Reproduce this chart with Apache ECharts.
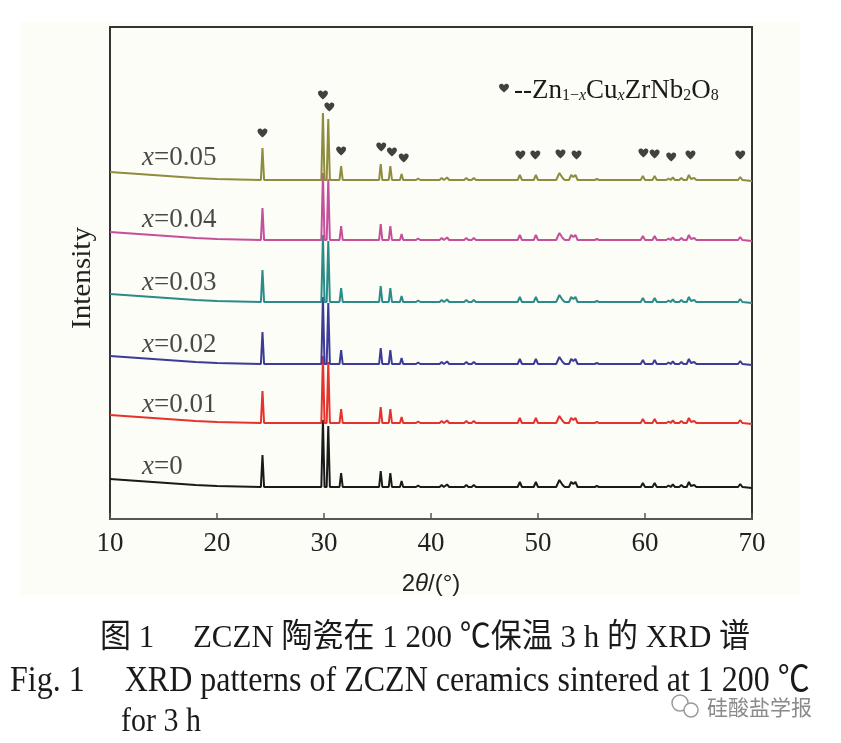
<!DOCTYPE html>
<html>
<head>
<meta charset="utf-8">
<script src="https://cdn.jsdelivr.net/npm/echarts@6/dist/echarts.min.js"></script>
<style>
html,body{margin:0;padding:0;background:#ffffff;}
#chart{width:841px;height:743px;}
</style>
</head>
<body>
<div id="chart"></div>
<script>
// ---- data (intensity in arbitrary units above each pattern's baseline) ----
var sampleLabels = ['x=0', 'x=0.01', 'x=0.02', 'x=0.03', 'x=0.04', 'x=0.05'];
var sampleColors = ['#1a1a1a', '#e4322c', '#3c3c98', '#2b8b88', '#c4509c', '#8e8c3e'];
var baselineOffsets = [32, 96, 155, 217, 279, 339];
var labelPositions = [[13.0, 52], [13.0, 114], [13.0, 174], [13.0, 236], [13.0, 299], [13.0, 361]];

// common XRD profile: [2theta, relative intensity]
var xrdProfile = [
  [10, 8], [12, 6.5], [14, 5], [16, 3.5], [18, 2], [20, 1], [22, 0.5], [24.1, 0],
  [24.25, 32], [24.4, 0], [29.75, 0], [29.9, 67], [30.05, 0], [30.25, 0], [30.4, 61], [30.55, 0],
  [31.45, 0], [31.6, 14], [31.75, 0], [35.15, 0], [35.3, 16], [35.45, 0], [36.05, 0], [36.2, 14],
  [36.35, 0], [37.1, 0], [37.25, 6], [37.4, 0], [38.6, 0], [38.8, 1.5], [39, 0], [40.8, 0],
  [41, 2], [41.2, 0], [41.3, 0], [41.5, 2.5], [41.7, 0], [43.1, 0], [43.3, 2], [43.5, 0],
  [43.8, 0], [44, 2], [44.2, 0], [48.1, 0], [48.3, 5], [48.5, 0], [49.6, 0], [49.8, 5],
  [50, 0], [51.7, 0], [52, 7], [52.3, 2], [52.5, 0], [52.9, 0], [53.1, 5], [53.3, 3],
  [53.5, 5], [53.7, 0], [55.3, 0], [55.5, 1], [55.7, 0], [59.6, 0], [59.8, 4], [60, 0],
  [60.7, 0], [60.9, 4], [61.1, 0], [62, 0], [62.2, 1.5], [62.4, 0], [62.6, 2.5], [62.8, 0],
  [63.2, 0], [63.4, 2], [63.6, 0], [63.9, 0], [64.1, 5], [64.3, 1], [64.6, 2], [64.8, 0],
  [68.7, 0], [68.9, 3], [69.1, 0], [70, -1]
];

// phase marker (heart) positions: [2theta, intensity]
var phaseMarkers = [
  [24.25, 386], [29.9, 424], [30.5, 412], [31.6, 368], [35.35, 372], [36.35, 367], [37.45, 361],
  [48.35, 364], [49.75, 364], [52.1, 365], [53.6, 364], [59.85, 366], [60.9, 365], [62.45, 362],
  [64.25, 364], [68.9, 364]
];

var xTicks = [10, 20, 30, 40, 50, 60, 70];

var heartPath = 'path://M12,21 C5,15 0,11 0,6 C0,2.5 2.5,0 6,0 C8.5,0 10.5,1.5 12,3.5 C13.5,1.5 15.5,0 18,0 C21.5,0 24,2.5 24,6 C24,11 19,15 12,21 Z';

var serif = '"Liberation Serif","Times New Roman",serif';
var capFont = '"Liberation Serif","Noto Sans CJK SC",serif';

var chart = echarts.init(document.getElementById('chart'), null, {renderer: 'canvas'});

var series = [];
for (var i = 0; i < sampleLabels.length; i++) {
  var off = baselineOffsets[i];
  series.push({
    type: 'line',
    name: sampleLabels[i],
    showSymbol: false,
    symbol: 'none',
    animation: false,
    lineStyle: {color: sampleColors[i], width: 2},
    data: xrdProfile.map(function (p) { return [p[0], p[1] + off]; }),
    z: 2 + i
  });
}
series.push({
  type: 'scatter',
  name: 'labels',
  symbolSize: 0,
  animation: false,
  silent: true,
  data: labelPositions.map(function (p, i) { return {value: p, name: sampleLabels[i]}; }),
  label: {
    show: true,
    position: 'right',
    distance: 0,
    formatter: function (prm) {
      return '{i|x}{n|' + prm.name.slice(1) + '}';
    },
    rich: {
      i: {fontFamily: serif, fontStyle: 'italic', fontSize: 27, color: '#1a1a1a'},
      n: {fontFamily: serif, fontSize: 27, color: '#1a1a1a'}
    }
  },
  z: 20
});
series.push({
  type: 'scatter',
  name: 'Zn1-xCuxZrNb2O8',
  symbol: heartPath,
  symbolSize: [10, 9],
  animation: false,
  itemStyle: {color: '#111'},
  data: phaseMarkers,
  z: 20
});

var graphics = [
  {type: 'rect', z: -10, silent: true, shape: {x: 20, y: 22, width: 780, height: 573}, style: {fill: '#fdfdf8'}},
  {type: 'text', z: 10, x: 83, y: 278, rotation: Math.PI / 2, scaleX: 1.08,
    style: {text: 'Intensity', font: '27px ' + serif, fill: '#222', align: 'center', verticalAlign: 'middle'}},
  {type: 'text', z: 10, x: 425, y: 638, scaleY: 1.05,
    style: {text: '图 1　 ZCZN 陶瓷在 1 200 ℃保温 3 h 的 XRD 谱', font: '31px ' + capFont, fill: '#1a1a1a', align: 'center', verticalAlign: 'middle'}},
  {type: 'text', z: 10, x: 10, y: 682, scaleY: 1.1,
    style: {text: 'Fig. 1　 XRD patterns of ZCZN ceramics sintered at 1 200 ℃', font: '32px ' + capFont, fill: '#1a1a1a', align: 'left', verticalAlign: 'middle'}},
  {type: 'text', z: 10, x: 121, y: 722, scaleY: 1.1,
    style: {text: 'for 3 h', font: '30px ' + serif, fill: '#1a1a1a', align: 'left', verticalAlign: 'middle'}},
  {type: 'circle', z: 12, shape: {cx: 680, cy: 703, r: 8}, style: {fill: 'none', stroke: '#9a9a9a', lineWidth: 1.5}},
  {type: 'circle', z: 12, shape: {cx: 691, cy: 710, r: 7}, style: {fill: '#ffffff', stroke: '#9a9a9a', lineWidth: 1.5}},
  {type: 'text', z: 12, x: 707, y: 707,
    style: {text: '硅酸盐学报', font: '21px "Noto Sans CJK SC",sans-serif', fill: '#8a8a8a', align: 'left', verticalAlign: 'middle'}}
];

var option = {
  backgroundColor: '#ffffff',
  animation: false,
  grid: {left: 110, right: 89, top: 27, bottom: 224, show: true, borderColor: '#333', borderWidth: 2, backgroundColor: 'transparent'},
  legend: {
    data: [{name: 'Zn1-xCuxZrNb2O8', icon: heartPath}],
    left: 494, top: 72,
    itemWidth: 10, itemHeight: 9,
    selectedMode: false,
    formatter: function () {
      return '{m|--Zn}{s|1−}{si|x}{m|Cu}{si|x}{m|ZrNb}{s|2}{m|O}{s|8}';
    },
    textStyle: {
      padding: [0, 0, 0, 0],
      rich: {
        m: {fontFamily: serif, fontSize: 27, color: '#1a1a1a', lineHeight: 32, verticalAlign: 'bottom'},
        s: {fontFamily: serif, fontSize: 16, color: '#1a1a1a', lineHeight: 14, verticalAlign: 'bottom'},
        si: {fontFamily: serif, fontSize: 16, fontStyle: 'italic', color: '#1a1a1a', lineHeight: 14, verticalAlign: 'bottom'}
      }
    }
  },
  xAxis: {
    type: 'value', min: 10, max: 70, interval: 10,
    axisLine: {show: true, lineStyle: {color: '#555', width: 2}},
    axisTick: {show: true, inside: true, length: 6, lineStyle: {color: '#555', width: 1.5}},
    splitLine: {show: false},
    axisLabel: {color: '#222', fontFamily: serif, fontSize: 27, margin: 11,
      formatter: function (v) { return xTicks.indexOf(v) >= 0 ? String(v) : ''; }},
    name: '{n|2}{t|θ}{n|/(°)}',
    nameLocation: 'middle',
    nameGap: 53,
    nameTextStyle: {
      rich: {
        n: {fontFamily: '"Liberation Sans",Arial,sans-serif', fontSize: 24, color: '#222'},
        t: {fontFamily: '"Liberation Sans",Arial,sans-serif', fontStyle: 'italic', fontSize: 24, color: '#222'}
      }
    }
  },
  yAxis: {
    type: 'value', min: 0, max: 492,
    axisLine: {show: false}, axisTick: {show: false}, axisLabel: {show: false}, splitLine: {show: false}
  },
  graphic: graphics,
  series: series
};
chart.setOption(option);
</script>
</body>
</html>
